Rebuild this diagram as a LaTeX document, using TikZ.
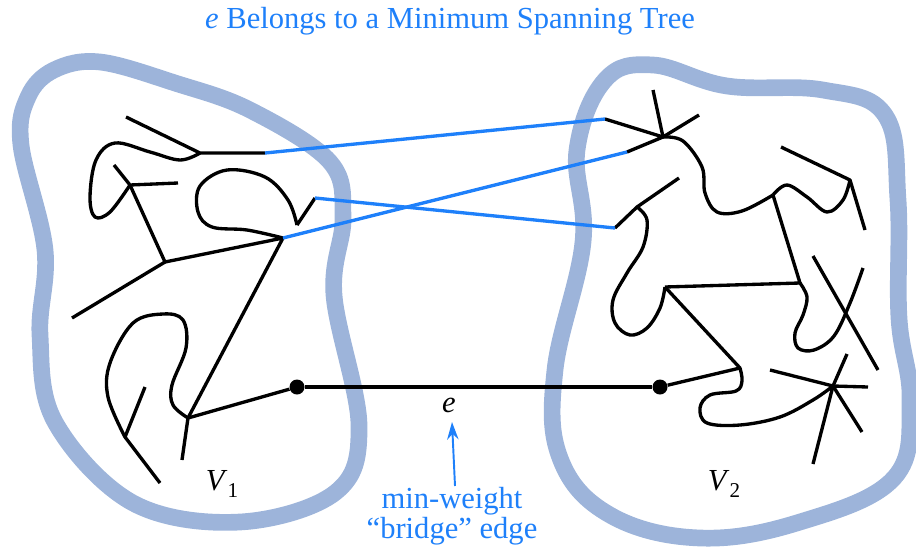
\documentclass[tikz,border=0pt]{standalone}
\usepackage{fontspec}
\setmainfont{Liberation Serif}
\usetikzlibrary{arrows.meta}
\definecolor{mstblue}{RGB}{30,128,250}
\definecolor{setblue}{RGB}{157,180,218}

\begin{document}
\begin{tikzpicture}[
  x=0.02cm,y=-0.02cm,
  every node/.style={font=\fontsize{17.4}{14.5}\selectfont},
  blob/.style={draw=setblue,line width=9.5pt,line join=round},
  tree/.style={draw=black,line width=1.9pt,line join=round},
  bridge/.style={draw=mstblue,line width=1.9pt},
  vdot/.style={circle,fill=black,inner sep=0pt,minimum size=15*0.02cm},
  lbl/.style={text=mstblue,align=center},
]
  \useasboundingbox (0,0) rectangle (916,548);

  % the two vertex sets
  \draw[blob] plot[smooth cycle,tension=0.6] coordinates {
    (100,62) (175,83) (250,110) (330,162) (343,218) (334,295) (359,425) (336,492)
    (240,522) (133,503) (55,422) (40,335) (45,250) (21,145) (28,97) (54,70)};
  \draw[blob] plot[smooth cycle,tension=0.65] coordinates {
    (653,65) (727,86) (823,90) (885,115) (898,200) (899,318) (910,400)
    (894,478) (800,522) (700,538) (610,515) (560,458) (555,370) (583,242)
    (577,150) (605,80)};

  % title and labels
  \node[lbl] (title) at (450,21) {\textit{e} Belongs to a Minimum Spanning Tree};
  \node (V1) at (222,484) {\textit{V}\raisebox{-0.45ex}{\fontsize{12}{12}\selectfont 1}};
  \node (V2) at (724,484) {\textit{V}\raisebox{-0.45ex}{\fontsize{12}{12}\selectfont 2}};
  \node (elbl) at (449,405) {\textit{e}};
  \node[lbl] (note) at (452,516) {min-weight\\``bridge'' edge};

  % tree in V1
  \coordinate (a1) at (200,153);
  \coordinate (a2) at (265,153);
  \coordinate (a3) at (130,185);
  \coordinate (a4) at (165,262);
  \coordinate (a5) at (283,238);
  \coordinate (a6) at (297,225);
  \coordinate (a7) at (315,198);
  \coordinate (a8) at (188,418);
  \coordinate (a9) at (125,437);
  \node[vdot] (u) at (297,387) {};

  \draw[tree] (126,117) -- (a1) -- (a2);
  \draw[tree] plot[smooth,tension=0.6] coordinates {
    (a1) (180,160) (150,152) (115,143) (96,160) (90,197) (95,217) (110,212) (a3)};
  \draw[tree] (114,165) -- (a3) -- (178,183);
  \draw[tree] (a3) -- (a4) -- (72,318);
  \draw[tree] (a4) -- (a5) -- (a8);
  \draw[tree] plot[smooth,tension=0.6] coordinates {
    (a5) (247,230) (212,227) (198,212) (200,186) (227,170) (265,177) (288,200) (a6)};
  \draw[tree] (a6) -- (a7);
  \draw[tree] (a8) -- (u);
  \draw[tree] (a8) -- (182,460);
  \draw[tree] plot[smooth,tension=0.6] coordinates {
    (a8) (173,405) (172,385) (186,348) (183,320) (163,314) (133,323) (110,363) (108,397) (a9)};
  \draw[tree] (145,387) -- (a9) -- (160,483);

  % tree in V2
  \coordinate (b1) at (663,137);
  \coordinate (b2) at (605,119);
  \coordinate (b3) at (627,152);
  \coordinate (b4) at (773,195);
  \coordinate (b5) at (850,180);
  \coordinate (b6) at (800,283);
  \coordinate (b7) at (665,287);
  \coordinate (b8) at (637,207);
  \coordinate (b9) at (615,228);
  \coordinate (b10) at (740,368);
  \coordinate (b11) at (833,386);
  \node[vdot] (v) at (660,387) {};

  \draw[tree] (653,90) -- (b1) -- (699,115);
  \draw[tree] (b2) -- (b1) -- (b3);
  \draw[tree] plot[smooth,tension=0.6] coordinates {
    (b1) (683,141) (702,167) (705,193) (717,212) (742,211) (b4)};
  \draw[tree] plot[smooth,tension=0.6] coordinates {
    (b4) (787,185) (807,197) (827,212) (843,200) (b5)};
  \draw[tree] (781,147) -- (b5) -- (865,230);
  \draw[tree] (b4) -- (b6) -- (b7);
  \draw[tree] plot[smooth,tension=0.6] coordinates {
    (b6) (807,297) (803,315) (795,333) (798,348) (814,350) (834,336) (850,303) (863,268)};
  \draw[tree] (813,256) -- (878,370);
  \draw[tree] plot[smooth,tension=0.6] coordinates {
    (b7) (660,308) (647,328) (630,335) (615,323) (613,300) (627,273) (643,247) (647,220) (b8)};
  \draw[tree] (679,178) -- (b8) -- (b9);
  \draw[tree] (b7) -- (b10) -- (v);
  \draw[tree] plot[smooth,tension=0.6] coordinates {
    (b10) (742,381) (736,391) (710,395) (700,408) (707,423) (740,425) (780,417) (813,400) (b11)};
  \draw[tree] (770,370) -- (b11) -- (868,387);
  \draw[tree] (847,354) -- (b11) -- (862,432);
  \draw[tree] (b11) -- (813,464);

  % bridge edges
  \draw[bridge] (a2) -- (b2);
  \draw[bridge] (a5) -- (b3);
  \draw[bridge] (a7) -- (b9);
  \draw[tree] (u) -- (v);

  % pointer to e
  \coordinate (ntail) at (455,486);
  \draw[mstblue,line width=1.1pt,-{Stealth[length=10pt,width=6.5pt]}] (ntail) -- (452,422);
\end{tikzpicture}
\end{document}
